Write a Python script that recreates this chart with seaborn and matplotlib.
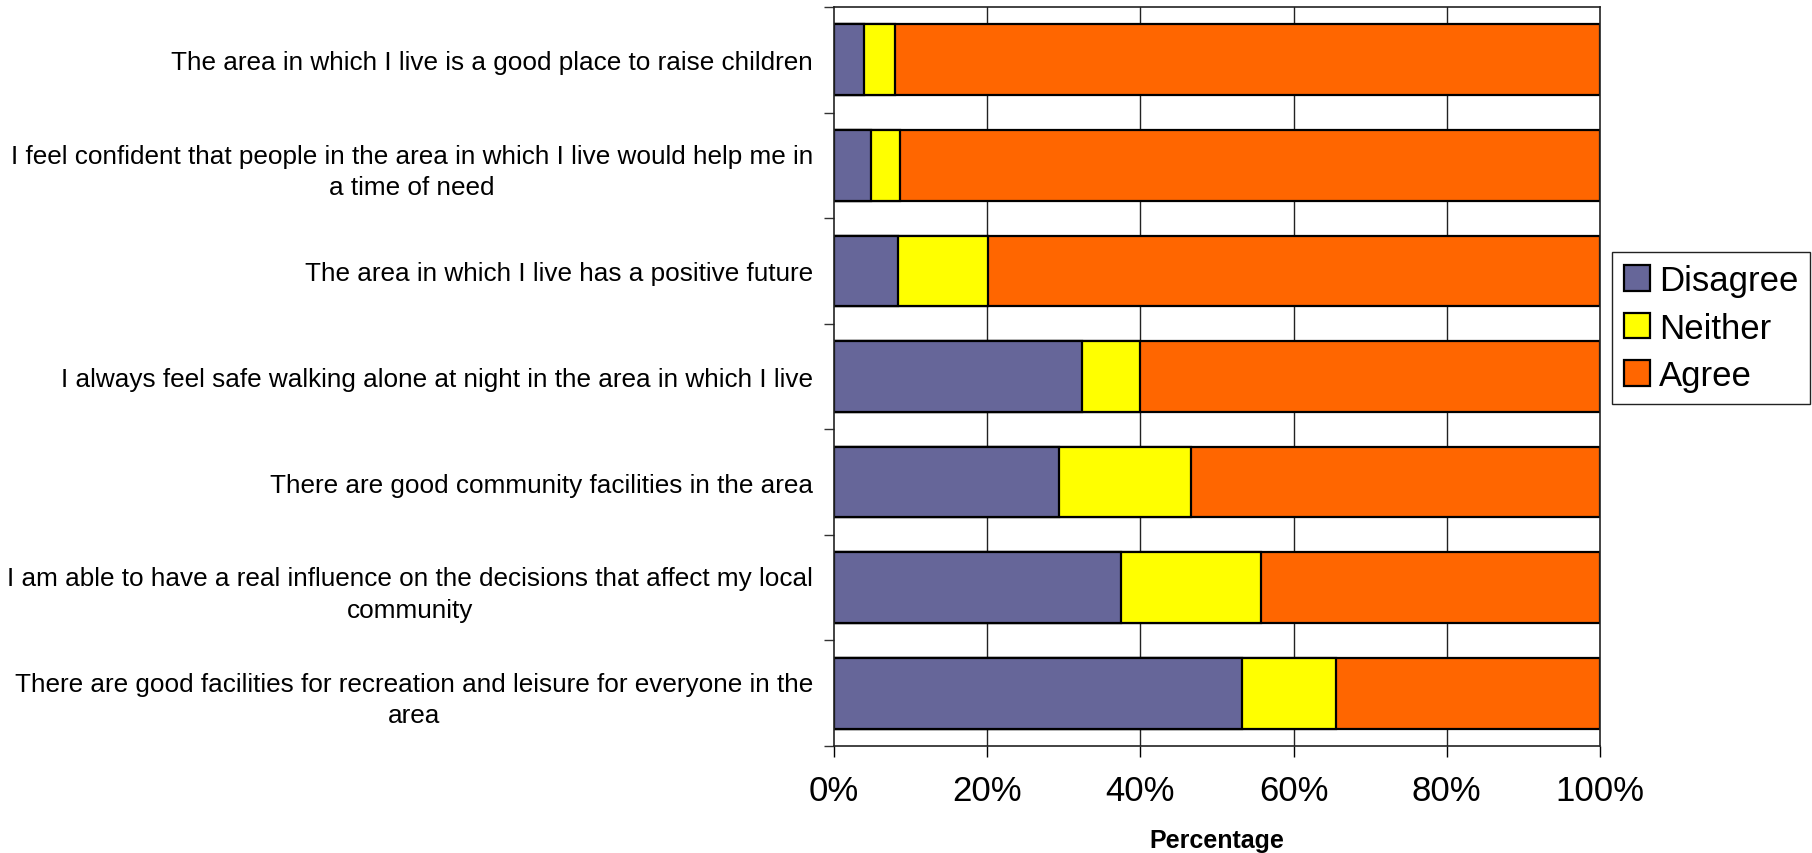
import matplotlib
matplotlib.use("Agg")
import matplotlib.pyplot as plt
import seaborn as sns
import pandas as pd
import numpy as np
from matplotlib.ticker import FixedLocator, FuncFormatter

categories = [
    "The area in which I live is a good place to raise children",
    "I feel confident that people in the area in which I live would help me in\na time of need",
    "The area in which I live has a positive future",
    "I always feel safe walking alone at night in the area in which I live",
    "There are good community facilities in the area",
    "I am able to have a real influence on the decisions that affect my local\ncommunity",
    "There are good facilities for recreation and leisure for everyone in the\narea",
]
disagree = [3.9, 4.8, 8.4, 32.4, 29.4, 37.5, 53.3]
neither = [4.1, 3.8, 11.7, 7.6, 17.2, 18.2, 12.3]
agree = [92.0, 91.4, 79.9, 60.0, 53.4, 44.3, 34.4]
series_names = ["Disagree", "Neither", "Agree"]
colors = {"Disagree": "#666699", "Neither": "#FFFF00", "Agree": "#FF6600"}
xticks = [0, 20, 40, 60, 80, 100]

sns.set_theme(style="white", rc={"text.color": "black", "axes.labelcolor": "black",
                                 "xtick.color": "black", "ytick.color": "black"})
regular = ["Liberation Sans", "DejaVu Sans"]
plt.rcParams["font.family"] = regular

df = pd.DataFrame({"cat": categories, "Disagree": disagree,
                   "Neither": neither, "Agree": agree})
df["c_dis"] = df["Disagree"]
df["c_nei"] = df["Disagree"] + df["Neither"]
df["c_agr"] = df["Disagree"] + df["Neither"] + df["Agree"]

fig = plt.figure(figsize=(18.12, 8.54), dpi=100)
ax = fig.add_axes([834/1812, 1 - 747/854, (1600-834)/1812, (747-8)/854])

ax.set_axisbelow(True)
for x in xticks[1:-1]:
    ax.axvline(x, color="#222222", lw=1.0, zorder=0)

for col, name in [("c_agr", "Agree"), ("c_nei", "Neither"), ("c_dis", "Disagree")]:
    sns.barplot(data=df, x=col, y="cat", orient="h", color=colors[name],
                width=0.67, edgecolor="black", linewidth=1.6, label=name,
                saturation=1, ax=ax, zorder=2)

handles, labels = ax.get_legend_handles_labels()
if ax.get_legend() is not None:
    ax.get_legend().remove()

ax.set_xlim(0, 100)
ax.set_ylim(6.5, -0.5)
ax.set_xlabel("Percentage", fontsize=18, fontweight="bold", labelpad=15)
ax.set_ylabel("")

ax.xaxis.set_major_locator(FixedLocator(xticks))
ax.xaxis.set_major_formatter(FuncFormatter(lambda v, p: f"{int(round(v))}%"))
ax.tick_params(axis="x", which="major", direction="out", length=8, width=1,
               color="black", pad=12, labelsize=25, bottom=True)

ax.set_yticks(range(len(categories)))
ax.set_yticklabels(categories)
ax.set_yticks(np.arange(-0.5, len(categories) + 0.5, 1.0), minor=True)
ax.tick_params(axis="y", which="major", length=0, pad=15, labelsize=18.8)
ax.tick_params(axis="y", which="minor", direction="out", length=7, width=1,
               color="#333333", left=True)
for lab in ax.get_yticklabels():
    lab.set_multialignment("center")
    lab.set_linespacing(1.4)

for s in ax.spines.values():
    s.set_color("#222222")
    s.set_linewidth(1.2)
    s.set_visible(True)

hmap = dict(zip(labels, handles))
leg = fig.legend([hmap[n] for n in series_names], series_names,
                 loc="upper left", bbox_to_anchor=(1612/1812, 1 - 253/854),
                 fontsize=25, frameon=True, fancybox=False, framealpha=1,
                 edgecolor="#222222", handlelength=0.75, handleheight=0.75,
                 handletextpad=0.25, labelspacing=0.42, borderpad=0.35,
                 borderaxespad=0)
leg.get_frame().set_linewidth(1.0)

fig.savefig("out.png", dpi=100)
